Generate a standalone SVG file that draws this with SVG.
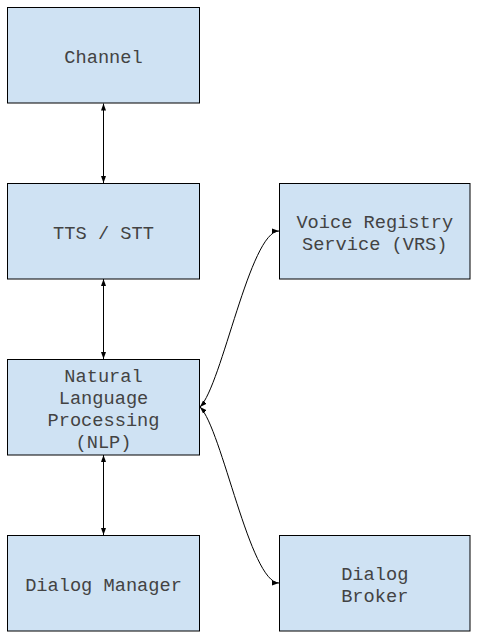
<svg xmlns="http://www.w3.org/2000/svg" width="481" height="641" viewBox="0 0 481 641">
  <style>
    .box { fill: #cfe2f3; stroke: #000000; stroke-width: 1; }
    .lbl { font-family: "Liberation Mono", "Courier New", monospace; font-size: 18.67px; fill: #434343; text-anchor: middle; }
    .conn { fill: none; stroke: #000000; stroke-width: 1; marker-start: url(#arr); marker-end: url(#arr); }
  </style>
  <defs>
    <marker id="arr" markerUnits="userSpaceOnUse" markerWidth="8" markerHeight="6" refX="7" refY="3" orient="auto-start-reverse" viewBox="0 0 8 6">
      <path d="M0,0.5 L7,3 L0,5.5 z" fill="#000000"/>
    </marker>
  </defs>
  <rect width="481" height="641" fill="#ffffff"/>

  <g id="connectors">
    <path class="conn" d="M103.5,103.5 L103.5,183"/>
    <path class="conn" d="M103.5,279 L103.5,359"/>
    <path class="conn" d="M103.5,455 L103.5,535"/>
    <path class="conn" d="M200,407 C222,385 250,231 279,231"/>
    <path class="conn" d="M200,407 C222,429 250,583 279,583"/>
  </g>

  <g id="channel">
    <rect class="box" x="7.5" y="7.5" width="192" height="95.5"/>
    <text class="lbl" x="103.5" y="63">Channel</text>
  </g>
  <g id="tts-stt">
    <rect class="box" x="7.5" y="183.5" width="192" height="95.5"/>
    <text class="lbl" x="103.5" y="239">TTS / STT</text>
  </g>
  <g id="nlp">
    <rect class="box" x="7.5" y="359.5" width="192" height="95.5"/>
    <text class="lbl" x="103.5" y="382">Natural</text>
    <text class="lbl" x="103.5" y="404">Language</text>
    <text class="lbl" x="103.5" y="426">Processing</text>
    <text class="lbl" x="103.5" y="448">(NLP)</text>
  </g>
  <g id="dialog-manager">
    <rect class="box" x="7.5" y="535.5" width="192" height="95.5"/>
    <text class="lbl" x="103.5" y="591">Dialog Manager</text>
  </g>
  <g id="vrs">
    <rect class="box" x="279.5" y="183.5" width="190.5" height="95.5"/>
    <text class="lbl" x="374.75" y="228">Voice Registry</text>
    <text class="lbl" x="374.75" y="250">Service (VRS)</text>
  </g>
  <g id="dialog-broker">
    <rect class="box" x="279.5" y="535.5" width="190.5" height="95.5"/>
    <text class="lbl" x="374.75" y="580">Dialog</text>
    <text class="lbl" x="374.75" y="602">Broker</text>
  </g>
</svg>
